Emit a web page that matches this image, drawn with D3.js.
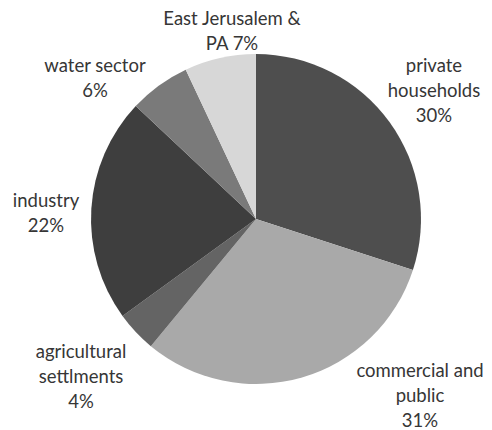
<!DOCTYPE html>
<html>
<head>
<meta charset="utf-8">
<script src="https://cdn.jsdelivr.net/npm/d3@7"></script>
<style>
  html, body { margin: 0; padding: 0; background: #fff; }
  svg { display: block; }
</style>
</head>
<body>
<svg id="chart" width="492" height="430"></svg>
<script>
// Energy consumption shares by sector (clockwise from 12 o'clock)
const sectors = ["private households", "commercial and public", "agricultural settlments", "industry", "water sector", "East Jerusalem & PA"];
const shares = [30, 31, 4, 22, 6, 7];
const fills = ["#4e4e4e", "#a9a9a9", "#646464", "#3e3e3e", "#7a7a7a", "#d7d7d7"];
// Label lines per sector
const labelLines = [
  ["private", "households", "30%"],
  ["commercial and", "public", "31%"],
  ["agricultural", "settlments", "4%"],
  ["industry", "22%"],
  ["water sector", "6%"],
  ["East Jerusalem &", "PA 7%"]
];

const cx = 256, cy = 219, radius = 165;

const svg = d3.select("#chart");
const g = svg.append("g").attr("transform", `translate(${cx},${cy})`);

const data = sectors.map((s, i) => ({ sector: s, value: shares[i], fill: fills[i], lines: labelLines[i] }));

const pie = d3.pie().value(d => d.value).sort(null);
const arc = d3.arc().innerRadius(0).outerRadius(radius);
const arcs = pie(data);

g.selectAll("path.slice")
  .data(arcs)
  .join("path")
  .attr("class", "slice")
  .attr("d", arc)
  .attr("fill", d => d.data.fill);

// First-baseline position of each label block, relative to the pie centre
const anchorPos = [
  [178, -147], // private households
  [164, 158],  // commercial and public
  [-175, 139], // agricultural settlments
  [-210, -12], // industry
  [-161, -147],// water sector
  [-24, -194]  // East Jerusalem & PA
];
const lineHeight = 25;

const labels = g.selectAll("text.label")
  .data(arcs)
  .join("text")
  .attr("class", "label")
  .attr("text-anchor", "middle")
  .attr("font-family", "Lato, 'Open Sans', sans-serif")
  .attr("font-size", 18.5)
  .attr("fill", "#363636");

labels.each(function(d, i) {
  const t = d3.select(this);
  const [x, y] = anchorPos[i];
  d.data.lines.forEach((line, k) => {
    t.append("tspan")
      .attr("x", x)
      .attr("y", y + k * lineHeight)
      .text(line);
  });
});
</script>
</body>
</html>
